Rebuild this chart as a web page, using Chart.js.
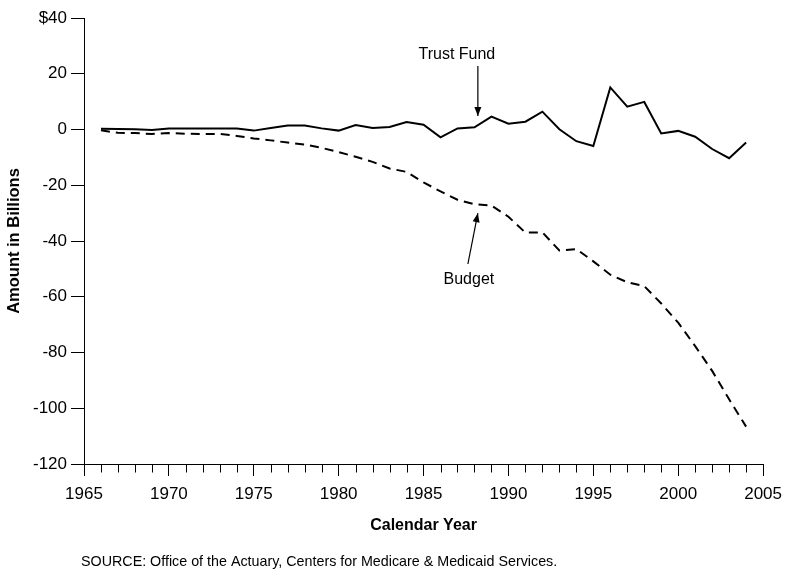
<!DOCTYPE html>
<html>
<head>
<meta charset="utf-8">
<script src="https://cdn.jsdelivr.net/npm/chart.js@4.4.1/dist/chart.umd.min.js"></script>
<style>html,body{margin:0;padding:0;background:#fff;}canvas{display:block;}</style>
</head>
<body>
<canvas id="c" width="790" height="580"></canvas>
<script>
// ---- data ----
const years = [1966,1967,1968,1969,1970,1971,1972,1973,1974,1975,1976,1977,1978,1979,1980,1981,1982,1983,1984,1985,
               1986,1987,1988,1989,1990,1991,1992,1993,1994,1995,1996,1997,1998,1999,2000,2001,2002,2003,2004];
const trustFund = [0.3,0.2,0.1,-0.2,0.4,0.4,0.4,0.4,0.4,-0.4,0.5,1.4,1.4,0.4,-0.4,1.6,0.5,0.9,2.7,1.7,
                   -2.8,0.4,0.8,4.6,2.1,2.8,6.4,0.1,-4.2,-5.9,15.1,8.2,9.9,-1.4,-0.5,-2.6,-7.0,-10.3,-4.7];
const budget = [-0.3,-1.2,-1.3,-1.6,-1.3,-1.5,-1.6,-1.6,-2.3,-3.2,-3.9,-4.7,-5.4,-6.6,-8.1,-9.8,-11.6,-14.0,-15.2,-19.0,
                -22.2,-25.2,-26.8,-27.3,-31.3,-37.0,-36.9,-43.4,-42.9,-47.3,-52.1,-54.8,-56.2,-62.4,-69.3,-77.7,-86.6,-96.8,-106.6];
const xMin = 1965, xMax = 2005, xMajorStep = 5;
const yMin = -120, yMax = 40, yStep = 20;
const seriesLabels = ['Trust Fund', 'Budget'];
const xTitle = 'Calendar Year';
const yTitle = 'Amount in Billions';
const sourceNote = 'SOURCE: Office of the Actuary, Centers for Medicare & Medicaid Services.';

const FONT = '"Liberation Sans", Arial, Helvetica, sans-serif';

const decor = {
  id: 'decor',
  afterDraw(chart) {
    const {ctx, scales: {x, y}} = chart;
    ctx.save();
    // minor year ticks
    ctx.strokeStyle = '#000';
    ctx.lineWidth = 1;
    const base = Math.round(y.getPixelForValue(yMin)) + 0.5;
    for (let yr = xMin + 1; yr < xMax; yr++) {
      if (yr % xMajorStep === 0) continue;
      const px = Math.round(x.getPixelForValue(yr)) + 0.5;
      ctx.beginPath(); ctx.moveTo(px, base); ctx.lineTo(px, base + 8); ctx.stroke();
    }
    // annotations
    function arrow(x1, y1, x2, y2) {
      ctx.beginPath(); ctx.moveTo(x1, y1); ctx.lineTo(x2, y2); ctx.lineWidth = 1.2; ctx.stroke();
      const a = Math.atan2(y2 - y1, x2 - x1), L = 9, W = 3.5;
      ctx.beginPath();
      ctx.moveTo(x2, y2);
      ctx.lineTo(x2 - L * Math.cos(a) + W * Math.sin(a), y2 - L * Math.sin(a) - W * Math.cos(a));
      ctx.lineTo(x2 - L * Math.cos(a) - W * Math.sin(a), y2 - L * Math.sin(a) + W * Math.cos(a));
      ctx.closePath(); ctx.fill();
    }
    ctx.fillStyle = '#000';
    ctx.font = '16px ' + FONT;
    ctx.textAlign = 'center';
    ctx.textBaseline = 'middle';
    const tfX = x.getPixelForValue(1988.2);
    ctx.fillText(seriesLabels[0], tfX - 21, 55);
    arrow(tfX, 66, tfX, y.getPixelForValue(4.8));
    ctx.fillText(seriesLabels[1], tfX - 9, 280);
    arrow(tfX - 10, 264, tfX, y.getPixelForValue(-30));
    // source note
    ctx.font = '14.3px ' + FONT;
    ctx.textAlign = 'left';
    ctx.fillText(sourceNote, 81, 562);
    ctx.restore();
  }
};

new Chart(document.getElementById('c'), {
  type: 'line',
  data: {
    datasets: [
      {
        label: seriesLabels[0],
        data: years.map((yr, i) => ({x: yr, y: trustFund[i]})),
        borderColor: '#000', borderWidth: 2, pointRadius: 0, tension: 0, fill: false
      },
      {
        label: seriesLabels[1],
        data: years.map((yr, i) => ({x: yr, y: budget[i]})),
        borderColor: '#000', borderWidth: 2, borderDash: [9, 6], pointRadius: 0, tension: 0, fill: false
      }
    ]
  },
  options: {
    responsive: false,
    animation: false,
    devicePixelRatio: 1,
    layout: {padding: {top: 18, right: 26, left: 0, bottom: 0}},
    plugins: {legend: {display: false}, tooltip: {enabled: false}, title: {display: false}},
    scales: {
      x: {
        type: 'linear', min: xMin, max: xMax,
        afterFit(s) { s.height = 116; },
        border: {display: true, color: '#000', width: 1},
        grid: {drawOnChartArea: false, drawTicks: true, tickLength: 12, color: '#000'},
        ticks: {stepSize: xMajorStep, padding: 8, color: '#000', font: {family: FONT, size: 17},
                maxRotation: 0, autoSkip: false, callback: v => String(v)},
        title: {display: true, text: xTitle, color: '#000', font: {family: FONT, size: 16, weight: 'bold'},
                padding: {top: 0, bottom: 45}}
      },
      y: {
        type: 'linear', min: yMin, max: yMax,
        afterFit(s) { s.width = 84; },
        border: {display: true, color: '#000', width: 1},
        grid: {drawOnChartArea: false, drawTicks: true, tickLength: 13, color: '#000'},
        ticks: {stepSize: yStep, padding: 4, color: '#000', font: {family: FONT, size: 17},
                callback: v => (v === yMax ? '$' + v : String(v))},
        title: {display: true, text: yTitle, color: '#000', font: {family: FONT, size: 16.5, weight: 'bold'},
                padding: {top: 5, bottom: 0}}
      }
    }
  },
  plugins: [decor]
});
</script>
</body>
</html>
